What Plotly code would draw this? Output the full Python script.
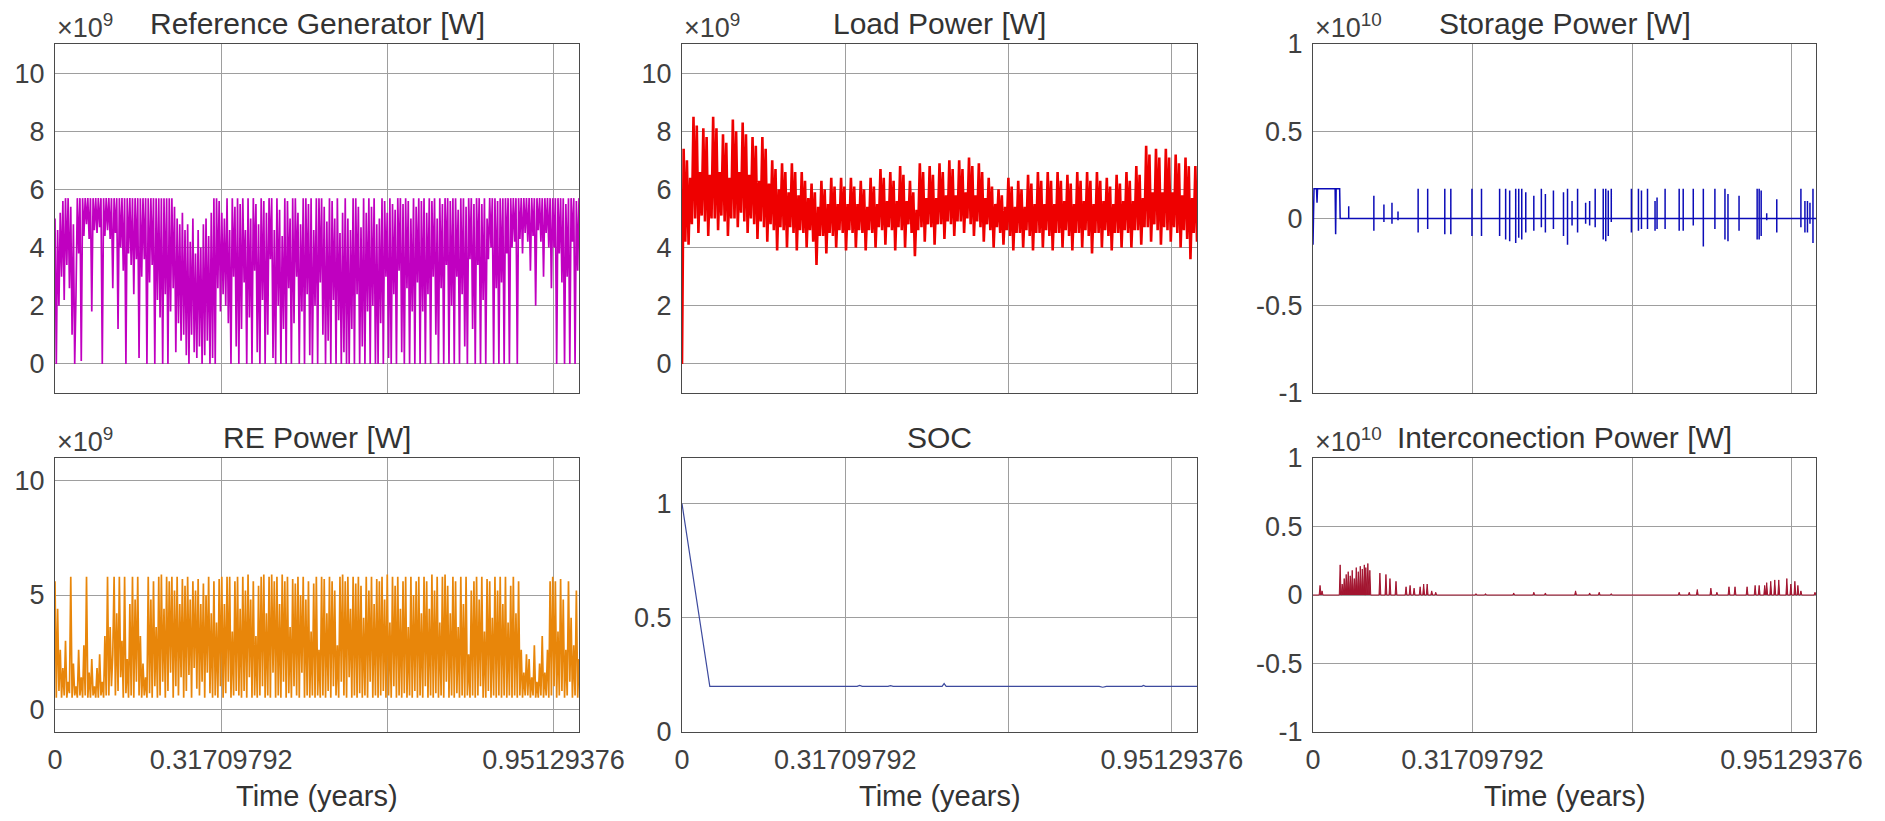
import numpy as np
import plotly.graph_objects as go
from plotly.subplots import make_subplots


FONT = 'Liberation Sans, Arial, Helvetica, sans-serif'
T_END = 1.0  # years
TICK_VALS = [0, 0.31709792, 0.63419584, 0.95129376]
TICK_TEXT = ['0', '0.31709792', '', '0.95129376']

# Reference generator power, x10^9 W (dense signal, one row per 0.05 year)
ref_gen = [
    5.0, 0.0, 4.6, 2.0, 5.2, 3.0, 5.6, 2.2, 5.7, 3.4, 5.7, 2.6, 5.4, 1.0, 4.8, 0.0, 2.4, 5.7, 3.8, 5.7,
    0.1, 5.7, 4.4, 5.7, 4.8, 5.7, 4.3, 5.7, 1.8, 5.7, 4.6, 5.7, 4.5, 5.7, 4.7, 5.7, 0.0, 5.7, 4.4, 5.7,
    4.6, 5.7, 4.3, 5.7, 2.6, 5.7, 4.5, 5.7, 1.2, 5.7, 4.0, 5.7, 3.2, 5.7, 0.0, 5.7, 3.8, 5.7, 3.4, 5.7,
    2.4, 5.7, 3.6, 5.7, 0.2, 5.7, 3.0, 5.7, 3.6, 5.7, 0.0, 5.7, 2.8, 5.7, 3.4, 5.7, 0.0, 5.7, 2.2, 5.7,
    1.6, 5.7, 0.0, 5.7, 2.4, 5.7, 0.0, 5.7, 1.8, 5.7, 2.6, 5.4, 0.4, 5.0, 1.4, 4.8, 0.8, 5.2, 1.0, 4.6,
    0.3, 4.8, 0.0, 4.2, 1.0, 5.0, 0.4, 3.8, 0.2, 4.6, 0.6, 4.0, 0.0, 4.8, 0.3, 5.0, 0.8, 4.4, 0.0, 5.2,
    0.2, 5.7, 0.0, 5.7, 2.6, 5.6, 1.8, 5.2, 2.4, 5.0, 2.0, 5.7, 1.4, 4.6, 0.0, 5.7, 3.0, 5.4, 0.6, 5.7,
    0.0, 5.5, 1.2, 5.7, 2.8, 4.6, 0.0, 5.7, 1.6, 5.0, 0.0, 5.7, 3.2, 5.5, 0.4, 4.8, 0.0, 5.7, 2.2, 5.6,
    0.0, 5.2, 1.0, 5.7, 3.6, 5.7, 0.2, 4.6, 0.0, 5.7, 2.0, 5.3, 0.0, 4.4, 1.2, 5.7, 0.0, 5.6, 2.6, 5.0,
    0.0, 5.7, 1.4, 5.7, 3.0, 5.2, 0.0, 4.8, 1.8, 5.7, 0.0, 5.7, 2.4, 5.5, 0.3, 5.7, 0.0, 4.6, 2.0, 5.7,
    0.0, 5.7, 2.8, 5.7, 1.0, 5.4, 0.0, 4.9, 0.8, 5.7, 0.0, 5.6, 2.2, 5.0, 0.0, 5.7, 1.5, 4.5, 0.0, 5.2,
    0.4, 5.7, 0.0, 5.0, 0.0, 4.6, 1.2, 5.7, 0.0, 5.7, 2.4, 5.4, 0.0, 4.7, 0.6, 5.7, 0.0, 5.2, 1.8, 5.7,
    0.0, 5.4, 2.0, 5.7, 0.0, 4.8, 0.0, 5.0, 1.4, 5.7, 0.0, 5.6, 3.0, 5.2, 0.2, 5.7, 0.0, 5.5, 2.4, 5.3,
    0.0, 5.7, 3.2, 5.7, 0.4, 5.5, 0.0, 5.7, 2.6, 5.6, 0.0, 5.0, 1.8, 5.7, 0.0, 5.4, 2.8, 5.7, 0.0, 5.6,
    1.8, 5.7, 0.0, 5.2, 2.4, 5.7, 0.0, 5.6, 3.0, 5.7, 1.0, 5.0, 0.0, 5.7, 2.6, 5.5, 0.0, 5.7, 3.4, 5.7,
    0.0, 5.6, 2.0, 5.7, 0.0, 5.7, 3.0, 5.3, 0.0, 5.7, 2.4, 5.7, 0.6, 5.4, 0.0, 5.7, 3.6, 5.7, 1.2, 5.5,
    0.0, 5.7, 3.4, 5.7, 0.0, 5.5, 2.2, 5.7, 0.0, 5.0, 3.6, 5.7, 4.0, 5.7, 0.0, 5.7, 2.6, 5.6, 0.0, 5.7,
    2.8, 5.7, 0.0, 5.7, 3.8, 5.7, 0.0, 5.7, 4.0, 5.7, 4.2, 5.7, 0.0, 5.7, 4.3, 5.7, 3.8, 5.7, 4.5, 5.7,
    4.2, 5.7, 3.2, 5.7, 4.4, 5.7, 2.0, 5.7, 4.6, 5.7, 4.2, 5.7, 3.0, 5.7, 4.5, 5.7, 4.0, 5.7, 2.6, 5.7,
    4.0, 5.7, 0.0, 5.7, 3.8, 5.7, 2.8, 5.7, 0.0, 5.5, 3.0, 5.7, 0.0, 5.7, 4.2, 5.7, 0.0, 5.6, 3.2, 5.7,
]

# Load power, x10^9 W (one row per week: peak, low, peak, dip, weekend, low)
load_power = [
    0.0,
    7.4, 4.2, 7.0, 4.1, 6.4, 4.8,
    8.5, 5.0, 8.2, 4.5, 6.6, 5.1,
    8.1, 4.9, 7.8, 4.4, 6.5, 5.0,
    8.5, 5.0, 8.1, 4.6, 6.6, 5.1,
    7.9, 4.9, 7.6, 4.4, 6.4, 5.0,
    8.4, 5.0, 8.0, 4.7, 6.6, 5.2,
    8.3, 4.9, 7.9, 4.5, 6.5, 5.0,
    7.8, 4.8, 7.5, 4.3, 6.3, 4.9,
    7.8, 4.7, 7.4, 4.2, 6.2, 4.8,
    7.0, 4.6, 6.7, 3.9, 6.0, 4.7,
    6.9, 4.6, 6.6, 4.0, 5.9, 4.7,
    6.9, 4.5, 6.6, 3.9, 5.8, 4.6,
    6.6, 4.5, 6.3, 4.0, 5.7, 4.6,
    6.2, 4.2, 5.9, 3.4, 5.4, 4.4,
    6.3, 4.4, 6.0, 3.8, 5.5, 4.5,
    6.4, 4.4, 6.1, 4.0, 5.5, 4.6,
    6.4, 4.5, 6.1, 3.9, 5.5, 4.6,
    6.4, 4.5, 6.1, 4.0, 5.5, 4.6,
    6.3, 4.5, 6.0, 3.9, 5.4, 4.6,
    6.4, 4.5, 6.1, 4.0, 5.5, 4.7,
    6.7, 4.6, 6.4, 4.1, 5.6, 4.7,
    6.6, 4.6, 6.3, 3.9, 5.6, 4.7,
    6.8, 4.6, 6.5, 4.0, 5.6, 4.8,
    6.3, 4.5, 5.9, 3.7, 5.3, 4.6,
    6.9, 4.7, 6.6, 4.2, 5.7, 4.8,
    6.8, 4.7, 6.5, 4.1, 5.7, 4.8,
    6.9, 4.8, 6.6, 4.3, 5.8, 4.9,
    7.0, 4.8, 6.7, 4.4, 5.8, 4.9,
    7.0, 4.9, 6.7, 4.5, 5.9, 5.0,
    7.1, 4.8, 6.8, 4.4, 5.8, 4.9,
    6.9, 4.7, 6.6, 4.2, 5.7, 4.8,
    6.4, 4.6, 6.1, 4.0, 5.5, 4.7,
    6.0, 4.5, 5.8, 4.1, 5.4, 4.6,
    6.4, 4.4, 6.1, 3.9, 5.4, 4.5,
    6.3, 4.5, 6.0, 4.0, 5.4, 4.6,
    6.5, 4.4, 6.2, 3.9, 5.5, 4.5,
    6.6, 4.5, 6.3, 4.0, 5.5, 4.6,
    6.6, 4.4, 6.3, 3.9, 5.5, 4.5,
    6.6, 4.5, 6.3, 4.0, 5.6, 4.6,
    6.5, 4.4, 6.2, 3.9, 5.5, 4.5,
    6.6, 4.5, 6.3, 4.0, 5.6, 4.6,
    6.6, 4.4, 6.3, 3.8, 5.5, 4.5,
    6.6, 4.5, 6.3, 4.0, 5.6, 4.6,
    6.4, 4.4, 6.1, 3.9, 5.5, 4.5,
    6.5, 4.5, 6.2, 4.0, 5.6, 4.6,
    6.6, 4.5, 6.3, 4.0, 5.6, 4.6,
    6.8, 4.6, 6.5, 4.1, 5.7, 4.7,
    7.5, 4.7, 7.2, 4.2, 5.9, 4.8,
    7.4, 4.6, 7.1, 4.1, 5.9, 4.7,
    7.4, 4.6, 7.1, 4.2, 5.9, 4.7,
    7.2, 4.5, 6.9, 4.0, 5.8, 4.6,
    7.1, 4.3, 6.8, 3.6, 5.7, 4.5,
    6.8, 4.2,
]

# Renewable power, x10^9 W (one row per 0.05 year)
re_power = [
    5.6, 0.5, 4.4, 0.8, 2.6, 0.5, 1.8, 0.6, 3.0, 0.5, 1.2, 0.7, 5.8, 0.5, 2.0, 0.6, 1.0, 0.5, 2.6, 0.6,
    1.4, 0.5, 2.8, 0.6, 5.8, 0.5, 1.6, 0.5, 2.2, 0.6, 1.0, 0.5, 1.8, 0.5, 2.4, 0.6, 1.2, 0.5, 3.2, 0.6,
    5.8, 0.6, 3.6, 1.0, 2.4, 5.8, 0.6, 4.2, 0.8, 5.8, 1.4, 3.0, 0.5, 5.8, 0.7, 2.2, 0.5, 4.6, 0.6, 5.8,
    0.5, 4.8, 1.2, 5.8, 0.6, 3.2, 0.5, 2.0, 0.6, 1.4, 0.5, 5.8, 0.7, 4.8, 0.5, 5.6, 1.0, 3.6, 0.5, 5.8,
    0.6, 5.9, 1.2, 4.4, 0.5, 5.8, 0.8, 5.6, 1.6, 5.8, 0.5, 5.2, 1.0, 5.8, 0.6, 4.6, 1.4, 5.7, 0.5, 5.4,
    0.8, 5.8, 1.5, 4.8, 0.5, 5.6, 1.8, 5.2, 0.9, 5.7, 0.6, 4.6, 1.2, 5.5, 0.5, 5.0, 1.6, 5.8, 0.7, 4.2,
    0.5, 5.6, 0.6, 3.8, 0.5, 5.7, 1.0, 5.8, 0.5, 4.6, 0.7, 5.8, 1.2, 5.8, 0.5, 3.4, 0.6, 5.6, 0.8, 5.8,
    0.6, 4.4, 0.5, 5.8, 0.8, 5.2, 0.5, 5.9, 1.4, 4.8, 0.5, 5.6, 0.6, 3.2, 0.5, 5.4, 0.6, 5.8, 1.0, 5.9,
    0.5, 4.2, 0.6, 5.8, 0.5, 5.9, 1.6, 5.6, 0.5, 5.8, 0.6, 4.6, 0.5, 5.9, 1.2, 5.6, 0.5, 5.8, 0.7, 3.6,
    0.5, 5.7, 1.0, 5.5, 0.6, 5.8, 0.5, 5.0, 1.6, 5.8, 0.5, 4.8, 0.6, 5.6, 0.5, 3.4, 0.6, 5.5, 0.5, 5.8,
    0.6, 2.6, 0.5, 5.8, 0.6, 5.7, 0.5, 4.2, 0.8, 5.8, 0.5, 5.6, 1.0, 5.2, 0.6, 2.8, 0.5, 5.8, 1.2, 5.9,
    0.6, 5.6, 0.5, 5.8, 1.4, 4.4, 0.5, 5.8, 0.6, 5.5, 0.5, 5.8, 0.7, 5.4, 0.5, 4.0, 0.6, 5.8, 0.5, 5.2,
    1.2, 5.8, 0.5, 4.6, 0.6, 5.7, 0.5, 5.6, 0.6, 5.8, 0.8, 4.8, 0.5, 5.9, 0.6, 3.8, 0.5, 5.8, 1.0, 5.4,
    0.5, 5.8, 0.6, 4.4, 0.5, 5.6, 0.7, 5.8, 0.5, 3.6, 0.6, 5.8, 0.5, 5.0, 0.8, 5.6, 0.5, 5.8, 0.6, 4.2,
    0.5, 5.8, 1.0, 5.6, 0.5, 4.4, 0.6, 5.9, 0.5, 5.2, 0.7, 5.8, 0.5, 3.8, 0.6, 5.8, 0.5, 5.9, 1.2, 5.4,
    0.5, 4.2, 0.6, 5.8, 0.5, 5.6, 0.7, 3.6, 0.5, 5.8, 0.6, 4.6, 0.5, 5.8, 0.6, 2.4, 0.5, 5.2, 0.6, 5.6,
    0.5, 5.8, 0.6, 4.8, 1.0, 5.8, 0.5, 3.4, 0.5, 5.7, 0.8, 5.6, 0.5, 4.0, 0.6, 5.8, 0.5, 5.2, 0.6, 5.8,
    0.5, 4.6, 0.6, 5.8, 0.5, 3.8, 0.6, 5.4, 0.5, 5.8, 0.6, 4.2, 0.5, 5.6, 0.6, 2.6, 0.5, 1.6, 0.6, 2.4,
    0.6, 2.2, 0.5, 1.4, 0.6, 2.8, 0.5, 1.2, 0.5, 2.0, 0.6, 3.2, 0.5, 1.6, 0.6, 2.6, 0.5, 5.6, 0.6, 5.8,
    1.0, 5.6, 0.5, 3.4, 0.6, 5.7, 0.8, 4.8, 0.5, 2.6, 0.6, 5.6, 1.2, 4.0, 0.5, 2.8, 0.6, 5.2, 0.5, 2.2,
]

# Storage power, x10^10 W: opening block then isolated charge/discharge spikes
storage_start_t = [0.0, 0.001, 0.002, 0.007, 0.008, 0.009, 0.044, 0.045, 0.046, 0.053, 0.054]
storage_start_p = [-0.15, 0.17, 0.17, 0.17, 0.09, 0.17, 0.17, -0.09, 0.17, 0.17, 0.0]
storage_spike_t = [
    0.071, 0.121, 0.141, 0.157, 0.169, 0.209, 0.228, 0.262, 0.274, 0.316,
    0.335, 0.371, 0.383, 0.391, 0.403, 0.409, 0.415, 0.423, 0.439, 0.454,
    0.462, 0.478, 0.498, 0.506, 0.515, 0.526, 0.542, 0.550, 0.561, 0.577,
    0.582, 0.587, 0.593, 0.633, 0.647, 0.653, 0.665, 0.680, 0.684, 0.700,
    0.728, 0.736, 0.756, 0.776, 0.799, 0.819, 0.825, 0.847, 0.883, 0.887,
    0.891, 0.902, 0.922, 0.970, 0.978, 0.983, 0.988, 0.994,
]
storage_spike_up = [
    0.07, 0.13, 0.08, 0.09, 0.04, 0.17, 0.17, 0.17, 0.17, 0.17,
    0.17, 0.17, 0.17, 0.16, 0.17, 0.17, 0.17, 0.15, 0.13, 0.17,
    0.14, 0.16, 0.15, 0.17, 0.10, 0.17, 0.09, 0.10, 0.17, 0.17,
    0.17, 0.16, 0.17, 0.17, 0.17, 0.16, 0.17, 0.10, 0.12, 0.17,
    0.17, 0.17, 0.17, 0.17, 0.17, 0.17, 0.14, 0.13, 0.17, 0.17,
    0.16, 0.03, 0.11, 0.17, 0.10, 0.10, 0.09, 0.17,
]
storage_spike_dn = [
    0.0, -0.07, -0.02, -0.03, -0.01, -0.08, -0.06, -0.09, -0.09, -0.10,
    -0.10, -0.10, -0.12, -0.13, -0.14, -0.11, -0.12, -0.08, -0.07, -0.05,
    -0.08, -0.06, -0.10, -0.15, -0.04, -0.08, -0.03, -0.04, -0.05, -0.12,
    -0.13, -0.10, -0.02, -0.08, -0.07, -0.06, -0.06, -0.07, -0.06, -0.06,
    -0.07, -0.07, -0.04, -0.16, -0.06, -0.12, -0.13, -0.07, -0.12, -0.12,
    -0.10, -0.01, -0.08, -0.05, -0.08, -0.08, -0.03, -0.14,
]

# State of charge
soc_t = [0.0, 0.054, 0.2, 0.34, 0.345, 0.35, 0.4, 0.405, 0.41, 0.505, 0.509, 0.513,
         0.6, 0.81, 0.817, 0.824, 0.893, 0.896, 0.9, 1.0]
soc = [1.0, 0.2, 0.2, 0.2, 0.204, 0.2, 0.2, 0.203, 0.2, 0.2, 0.212, 0.2,
       0.2, 0.2, 0.196, 0.2, 0.2, 0.204, 0.2, 0.2]

# Interconnection power, x10^10 W (peaks)
inter_t = [
    0.014, 0.018, 0.054, 0.058, 0.062, 0.066, 0.070, 0.074, 0.078, 0.082,
    0.086, 0.090, 0.094, 0.098, 0.102, 0.105, 0.109, 0.113, 0.133, 0.145,
    0.153, 0.165, 0.185, 0.193, 0.201, 0.213, 0.220, 0.227, 0.236, 0.244,
    0.324, 0.343, 0.399, 0.439, 0.462, 0.522, 0.550, 0.569, 0.593, 0.704,
    0.728, 0.748, 0.764, 0.791, 0.803, 0.827, 0.839, 0.863, 0.879, 0.887,
    0.898, 0.902, 0.910, 0.918, 0.926, 0.942, 0.950, 0.958, 0.964, 0.970,
    0.998,
]
inter_p = [
    0.07, 0.03, 0.22, 0.08, 0.12, 0.15, 0.17, 0.14, 0.18, 0.12,
    0.20, 0.17, 0.21, 0.19, 0.22, 0.20, 0.23, 0.18, 0.16, 0.15,
    0.12, 0.10, 0.06, 0.07, 0.05, 0.06, 0.08, 0.08, 0.03, 0.02,
    0.01, 0.01, 0.015, 0.02, 0.015, 0.03, 0.015, 0.02, 0.01, 0.005,
    0.02, 0.02, 0.04, 0.05, 0.02, 0.06, 0.06, 0.06, 0.07, 0.07,
    0.07, 0.09, 0.10, 0.11, 0.11, 0.12, 0.08, 0.10, 0.07, 0.03,
    0.02,
]


def sample_times(values):
    return np.linspace(0, T_END, len(values))


# storage trace: opening block, then each spike goes 0 -> up -> down -> 0
st_x, st_y = list(storage_start_t), list(storage_start_p)
for t, up, dn in zip(storage_spike_t, storage_spike_up, storage_spike_dn):
    st_x += [t, t, t, t]
    st_y += [0.0, up, dn, 0.0]
st_x.append(T_END)
st_y.append(0.0)

# interconnection trace: narrow peaks on a zero baseline
HALF = 0.0018
ic_x, ic_y = [0.0], [0.0]
for t, p in zip(inter_t, inter_p):
    ic_x += [t - HALF, t, t + HALF]
    ic_y += [0.0, p, 0.0]
ic_x.append(T_END)
ic_y.append(0.0)

fig = make_subplots(rows=2, cols=3)

fig.add_trace(go.Scatter(x=sample_times(ref_gen), y=ref_gen, mode='lines',
                         line={'color': '#C000C0', 'width': 1.7}), row=1, col=1)
fig.add_trace(go.Scatter(x=sample_times(load_power), y=load_power, mode='lines',
                         line={'color': '#EE0000', 'width': 2.6}), row=1, col=2)
fig.add_trace(go.Scatter(x=st_x, y=st_y, mode='lines',
                         line={'color': '#0C0CB8', 'width': 1.5}), row=1, col=3)
fig.add_trace(go.Scatter(x=sample_times(re_power), y=re_power, mode='lines',
                         line={'color': '#E8860A', 'width': 1.7}), row=2, col=1)
fig.add_trace(go.Scatter(x=soc_t, y=soc, mode='lines',
                         line={'color': '#3D4A9E', 'width': 1.2}), row=2, col=2)
fig.add_trace(go.Scatter(x=ic_x, y=ic_y, mode='lines', fill='tozeroy', fillcolor='#A2142F',
                         line={'color': '#A2142F', 'width': 1}), row=2, col=3)

# axes positions in px of the 1885x821 page
W, H = 1885, 821
col_px = [(55, 579), (682, 1197), (1313, 1816)]
row_px = [(44, 393), (458, 732)]

grid = '#9E9E9E'
frame = '#4A4A4A'
tick_font = {'family': FONT, 'size': 27, 'color': '#404040'}

y_setup = {
    (1, 1): ([-1, 11], [0, 2, 4, 6, 8, 10], None),
    (1, 2): ([-1, 11], [0, 2, 4, 6, 8, 10], None),
    (1, 3): ([-1, 1], [-1, -0.5, 0, 0.5, 1], ['-1', '-0.5', '0', '0.5', '1']),
    (2, 1): ([-1, 11], [0, 5, 10], None),
    (2, 2): ([0, 1.2], [0, 0.5, 1], None),
    (2, 3): ([-1, 1], [-1, -0.5, 0, 0.5, 1], ['-1', '-0.5', '0', '0.5', '1']),
}

for (r, c), (yr, yv, yt) in y_setup.items():
    x0, x1 = col_px[c - 1]
    y0, y1 = row_px[r - 1]
    fig.update_xaxes(
        domain=[x0 / W, x1 / W], range=[0, T_END], tickvals=TICK_VALS, ticktext=TICK_TEXT,
        showticklabels=(r == 2), showgrid=True, gridcolor=grid, gridwidth=1, zeroline=False,
        showline=True, mirror=True, linecolor=frame, linewidth=1.3, ticks='',
        tickfont=tick_font, ticklabelstandoff=3, automargin=False, row=r, col=c,
    )
    fig.update_yaxes(
        domain=[1 - y1 / H, 1 - y0 / H], range=yr, tickvals=yv,
        ticktext=yt if yt else [str(v) for v in yv],
        showgrid=True, gridcolor=grid, gridwidth=1, zeroline=False,
        showline=True, mirror=True, linecolor=frame, linewidth=1.3, ticks='',
        tickfont=tick_font, ticklabelstandoff=4, automargin=False, row=r, col=c,
    )

titles = {
    1: 'Reference Generator [W]', 2: 'Load Power [W]', 3: 'Storage Power [W]',
    4: 'RE Power [W]', 5: 'SOC', 6: 'Interconection Power [W]',
}
exponents = {1: '9', 2: '9', 3: '10', 4: '9', 6: '10'}

for i, text in titles.items():
    ax = '' if i == 1 else str(i)
    fig.add_annotation(text=text, xref=f'x{ax} domain', yref=f'y{ax} domain', x=0.5, y=1,
                       xanchor='center', yanchor='bottom', yshift=2, showarrow=False,
                       font={'family': FONT, 'size': 30, 'color': '#333333'})
    if i in exponents:
        fig.add_annotation(text=f'\u00d710<sup>{exponents[i]}</sup>', xref=f'x{ax} domain',
                           yref=f'y{ax} domain', x=0, y=1, xanchor='left', yanchor='bottom',
                           yshift=-1, showarrow=False,
                           font={'family': FONT, 'size': 27, 'color': '#404040'})
    if i >= 4:
        fig.add_annotation(text='Time (years)', xref=f'x{ax} domain', yref='paper', x=0.5,
                           y=1 - 796 / H, xanchor='center', yanchor='middle', showarrow=False,
                           font={'family': FONT, 'size': 29, 'color': '#333333'})

fig.update_layout(
    width=W, height=H, margin={'l': 0, 'r': 0, 't': 0, 'b': 0},
    paper_bgcolor='white', plot_bgcolor='white', showlegend=False,
    font={'family': FONT, 'color': '#404040'},
)

fig.write_html("out.html", config={'displayModeBar': False},
               post_script="document.body.style.margin='0';")
